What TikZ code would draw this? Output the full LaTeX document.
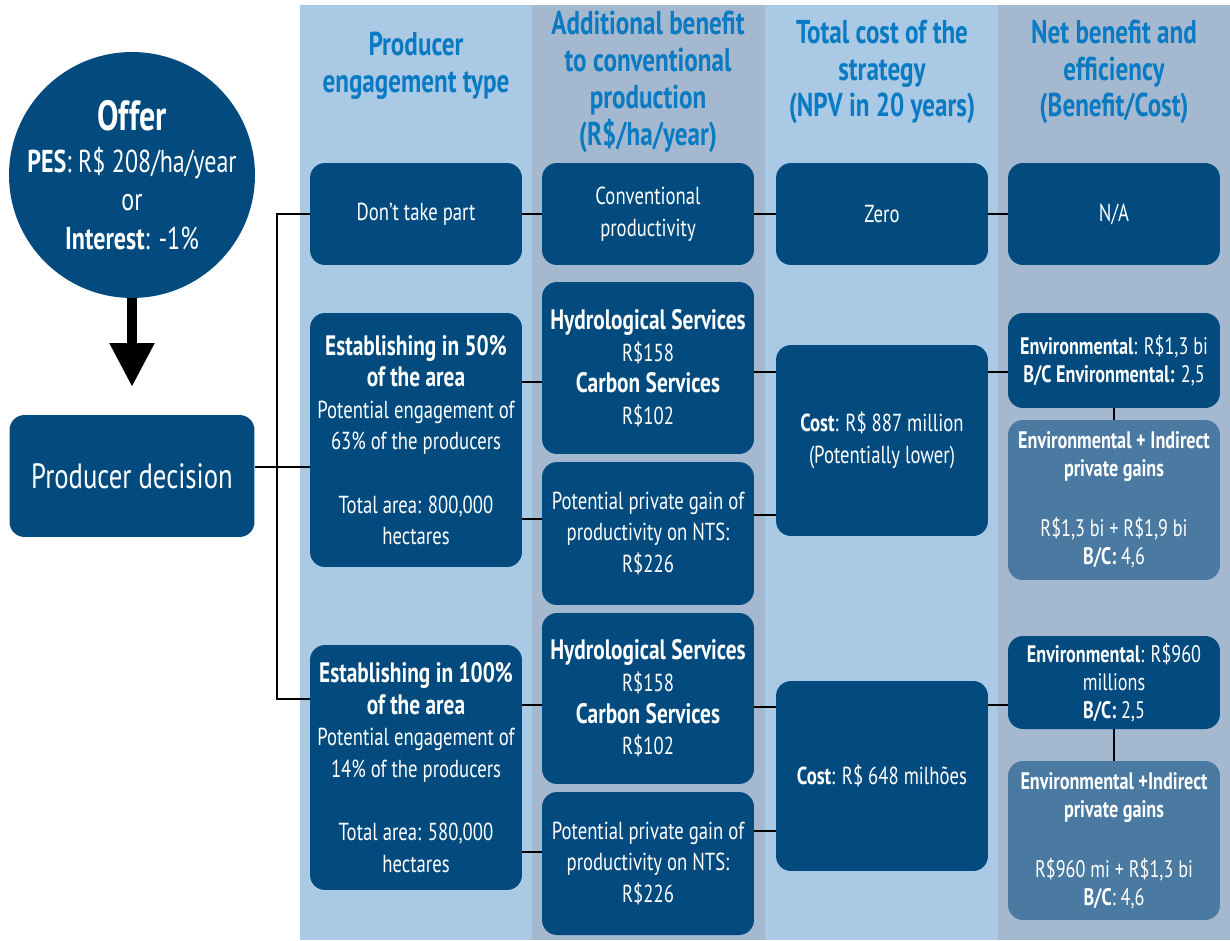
\documentclass[tikz,border=0pt]{standalone}
\usepackage{fontspec}
\setmainfont{PT Sans}[FakeStretch=0.76]
\usetikzlibrary{arrows.meta}
\definecolor{darkbox}{HTML}{034B7E}
\definecolor{lightbox}{HTML}{4A79A1}
\definecolor{colA}{HTML}{A9C9E5}
\definecolor{colB}{HTML}{A4B9CF}
\definecolor{headblue}{HTML}{0A7AC2}
\newcommand{\bigbf}[1]{{\bfseries\fontsize{16}{19}\selectfont #1}}

\begin{document}
\begin{tikzpicture}[x=0.02cm, y=-0.02cm,
    box/.style={fill=darkbox, text=white, rounded corners=0.3cm, minimum width=4.24cm,
      align=center, inner sep=2pt, font=\fontsize{14}{18}\selectfont},
    pale/.style={box, fill=lightbox},
    small/.style={font=\fontsize{13.6}{16}\selectfont},
    head/.style={text=headblue, align=center, font=\bfseries\fontsize{18.8}{21}\selectfont},
    link/.style={line width=1.2pt}]
    \useasboundingbox (0,0) rectangle (1230,940);
    \fill[white](0,0) rectangle (1230,940);
    \fill[colA](300,5) rectangle (532,940);
    \fill[colB](532,5) rectangle (765,940);
    \fill[colA](765,5) rectangle (998,940);
    \fill[colB](998,5) rectangle (1230,940);

    \node[head] (h1) at (416,66) {Producer\\engagement type};
    \node[head] (h2) at (648,82) {Additional benefit\\to conventional\\production\\(R\$/ha/year)};
    \node[head] (h3) at (882,72) {Total cost of the\\strategy\\(NPV in 20 years)};
    \node[head] (h4) at (1114,72) {Net benefit and\\efficiency\\(Benefit/Cost)};

    \node[circle, fill=darkbox, minimum size=4.92cm] (offer) at (132,175) {};
    \node[text=white, align=center, font=\fontsize{18}{22}\selectfont] (offertxt) at (offer)
      {{\bfseries\fontsize{24}{26}\selectfont Offer}\\[2pt]\textbf{PES}: R\$ 208/ha/year\\or\\\textbf{Interest}: -1\%};
    \node[box, minimum width=4.9cm, minimum height=2.44cm, font=\fontsize{20}{22}\selectfont] (dec) at (132,476) {Producer decision};
    \coordinate (tip) at (132,387);
    \draw[line width=6pt, -{Triangle[width=24pt, length=25pt]}] (offer.south) -- (tip);

    \node[box, minimum height=2.04cm] (dont) at (416,214) {Don’t take part};
    \node[box, minimum height=2.04cm] (conv) at (648,214) {Conventional\\productivity};
    \node[box, minimum height=2.04cm] (zero) at (882,214) {Zero};
    \node[box, minimum height=2.04cm] (na) at (1114,214) {N/A};

    \node[box, minimum height=5.08cm] (est1) at (416,440)
      {\bigbf{Establishing in 50\%}\\\bigbf{of the area}\\Potential engagement of\\63\% of the producers\\[18pt]Total area: 800,000\\hectares};
    \node[box, minimum height=3.44cm] (hyd1) at (648,368)
      {\bigbf{Hydrological Services}\\R\$158\\\bigbf{Carbon Services}\\R\$102};
    \node[box, minimum height=2.86cm] (pot1) at (648,533.5) {Potential private gain of\\productivity on NTS:\\R\$226};
    \node[box, minimum height=3.82cm] (cost1) at (882,440.5) {\textbf{Cost}: R\$ 887 million\\(Potentially lower)};
    \node[box, small, minimum height=1.9cm] (env1) at (1114,360.5) {\textbf{Environmental}: R\$1,3 bi\\\textbf{B/C Environmental:} 2,5};
    \node[pale, small, minimum height=3.2cm] (ind1) at (1114,500)
      {\textbf{Environmental + Indirect}\\\textbf{private gains}\\[18pt]R\$1,3 bi + R\$1,9 bi\\\textbf{B/C:} 4,6};

    \node[box, minimum height=4.9cm] (est2) at (416,767.5)
      {\bigbf{Establishing in 100\%}\\\bigbf{of the area}\\Potential engagement of\\14\% of the producers\\[18pt]Total area: 580,000\\hectares};
    \node[box, minimum height=3.42cm] (hyd2) at (648,698.5)
      {\bigbf{Hydrological Services}\\R\$158\\\bigbf{Carbon Services}\\R\$102};
    \node[box, minimum height=2.86cm] (pot2) at (648,863.5) {Potential private gain of\\productivity on NTS:\\R\$226};
    \node[box, minimum height=3.8cm] (cost2) at (882,776) {\textbf{Cost}: R\$ 648 milhões};
    \node[box, small, minimum height=1.86cm] (env2) at (1114,682.5) {\textbf{Environmental}: R\$960\\millions\\\textbf{B/C:} 2,5};
    \node[pale, small, minimum height=3.18cm] (ind2) at (1114,840.5)
      {\textbf{Environmental +Indirect}\\\textbf{private gains}\\[18pt]R\$960 mi + R\$1,3 bi\\\textbf{B/C}: 4,6};

    \draw[link] ([yshift=0.18cm]dec.east) coordinate (d) -- (d -| est1.west);
    \draw[link] (dont.west) -- ++(-33,0) |- ([yshift=1.37cm]est2.west);
    \draw[link] (dont) -- (conv);
    \draw[link] (conv) -- (zero);
    \draw[link] (zero) -- (na);
    \draw[link] ([yshift=1.16cm]est1.east) coordinate (a1) -- (a1 -| hyd1.west);
    \draw[link] ([yshift=-1.58cm]est1.east) coordinate (b1) -- (b1 -| pot1.west);
    \draw[link] ([yshift=-0.08cm]hyd1.east) coordinate (c1) -- (c1 -| cost1.west);
    \draw[link] ([yshift=0.37cm]pot1.east) coordinate (e1) -- (e1 -| cost1.west);
    \draw[link] ([yshift=1.37cm]cost1.east) coordinate (f1) -- (f1 -| env1.west);
    \draw[link] (env1) -- (ind1);
    \draw[link] ([yshift=1.25cm]est2.east) coordinate (a2) -- (a2 -| hyd2.west);
    \draw[link] ([yshift=-1.69cm]est2.east) coordinate (b2) -- (b2 -| pot2.west);
    \draw[link] ([yshift=-0.17cm]hyd2.east) coordinate (c2) -- (c2 -| cost2.west);
    \draw[link] ([yshift=0.65cm]pot2.east) coordinate (e2) -- (e2 -| cost2.west);
    \draw[link] ([yshift=1.42cm]cost2.east) coordinate (f2) -- (f2 -| env2.west);
    \draw[link] (env2) -- (ind2);
\end{tikzpicture}
\end{document}
